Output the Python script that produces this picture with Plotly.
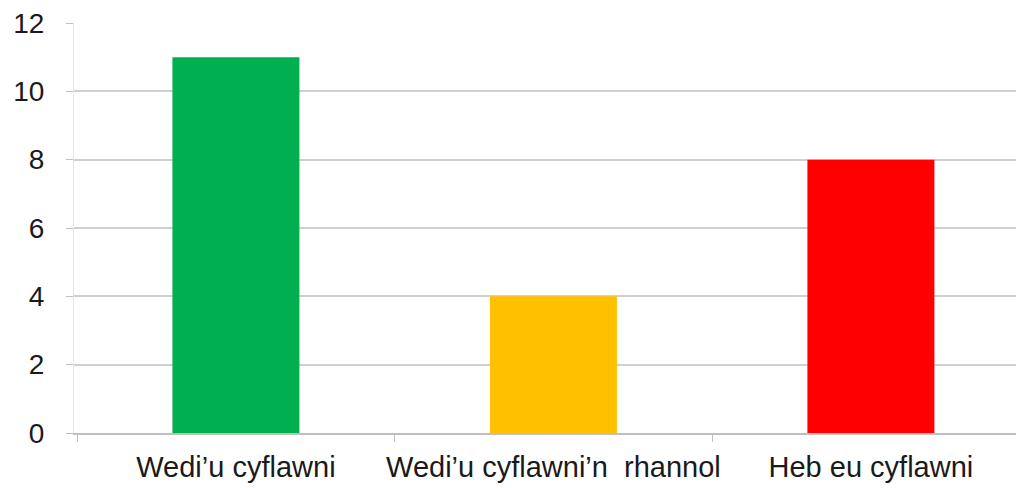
import plotly.graph_objects as go

categories = ["Wedi\u2019u cyflawni", "Wedi\u2019u cyflawni\u2019n  rhannol", "Heb eu cyflawni"]
values = [11, 4, 8]
colors = ["#00B050", "#FFC000", "#FF0000"]
y_ticks = [0, 2, 4, 6, 8, 10, 12]

fig = go.Figure(go.Bar(x=categories, y=values, marker_color=colors, marker_line_width=0, width=0.4))

fig.update_layout(
    width=1016, height=488,
    margin=dict(l=74, r=0, t=23, b=55, autoexpand=False),
    paper_bgcolor="white", plot_bgcolor="white",
    font=dict(family="Liberation Sans, Arial, sans-serif", size=28, color="#1a1a1a"),
    showlegend=False,
)
fig.update_xaxes(
    range=[-0.51, 2.457], tickson="boundaries", ticks="outside", ticklen=7,
    tickcolor="#bfbfbf", showline=True, linecolor="#bfbfbf", linewidth=2,
    showgrid=False, tickfont=dict(size=29), tickangle=0, automargin=False,
    ticklabelstandoff=7,
)
fig.update_yaxes(
    range=[0, 12], tickvals=y_ticks, ticks="outside", ticklen=7, tickcolor="#bfbfbf",
    showgrid=True, gridcolor="#d0d0d0", gridwidth=2, showline=True, linecolor="#e6e6e6",
    zeroline=False, tickfont=dict(size=28), ticklabelstandoff=16, automargin=False,
)

fig.write_html(
    "out.html",
    config={"displayModeBar": False},
    post_script="document.body.style.margin='0';document.body.style.overflow='hidden';",
)
